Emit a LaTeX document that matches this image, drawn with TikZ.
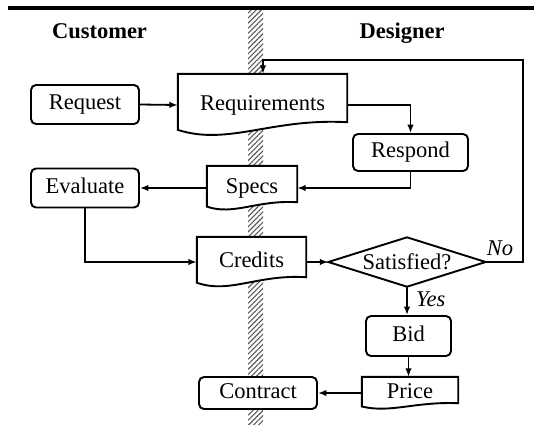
\documentclass[tikz,border=0pt]{standalone}
\usepackage{fontspec}
\setmainfont{Liberation Serif}
\usetikzlibrary{arrows.meta,calc,patterns.meta}

\pgfdeclarelayer{lane}
\pgfdeclarelayer{shapes}
\pgfsetlayers{lane,shapes,main}

\tikzset{
  lbl/.style={font=\fontsize{22.5}{27}\selectfont, text height=15pt, text depth=5pt},
  proc/.style={lbl, draw, line width=1.9pt, rounded corners=5pt, fill=white, inner sep=0pt},
  docnode/.style={lbl, inner sep=0pt},
  docline/.style={draw, line width=1.9pt, fill=white, line join=miter},
  flow/.style={line width=1.8pt, -{Latex[length=8.5pt,width=6.5pt]}},
  head/.style={font=\fontsize{22.5}{27}\selectfont\bfseries, anchor=base, inner sep=0pt},
  answer/.style={font=\fontsize{22.5}{27}\selectfont\itshape, anchor=base west, inner sep=0pt},
}

% document symbol: straight top and sides, wavy bottom edge
\newcommand\docshape[2]{%
  \path[docline] (#1.north west) -- (#1.north east) -- ($(#1.south east)+(0,-#2)$)
    .. controls ($(#1.south west)!0.55!(#1.south east)+(0,-1.3*#2)$)
    and ($(#1.south west)!0.3!(#1.south east)+(0,0.7*#2)$)
    .. ($(#1.south west)+(0,-0.45*#2)$) -- cycle;}

\begin{document}
\begin{tikzpicture}[x=1pt,y=-1pt]
\useasboundingbox (0,0) rectangle (534,424);

% swimlane header rule and hatched lane divider
\draw[line width=4pt] (8,7.5) -- (534,7.5);
\begin{pgfonlayer}{lane}
  \fill[pattern={Lines[angle=45,distance=3.6pt,line width=1.1pt]}, pattern color=black!65]
    (248,10) rectangle (263,424);
\end{pgfonlayer}

\node[head] (cust) at (99.5,38.5) {Customer};
\node[head] (dsgn) at (402,38.5) {Designer};

% steps
\node[proc, minimum width=108pt, minimum height=39pt] (request) at (85,104.5) {Request};
\node[docnode, minimum width=169pt, minimum height=62pt] (req) at (262.5,105) {Requirements};
\node[proc, minimum width=115pt, minimum height=37pt] (respond) at (410.5,152.5) {Respond};
\node[docnode, minimum width=90pt, minimum height=44pt] (specs) at (252,188) {Specs};
\node[proc, minimum width=108pt, minimum height=39pt] (evaluate) at (85,188) {Evaluate};
\node[docnode, minimum width=109pt, minimum height=50pt] (credits) at (251.5,262) {Credits};
\node[lbl, inner sep=0pt, minimum width=157pt, minimum height=49pt] (sat) at (407,262) {\raisebox{-2pt}{Satisfied?}};
\node[proc, minimum width=85pt, minimum height=40pt] (bid) at (408.5,336) {Bid};
\node[docnode, minimum width=96pt, minimum height=32pt] (price) at (410,393) {Price};
\node[proc, minimum width=118pt, minimum height=32pt] (contract) at (258,393) {Contract};

\begin{pgfonlayer}{shapes}
  \docshape{req}{14}
  \docshape{specs}{8}
  \docshape{credits}{10}
  \docshape{price}{6}
  \path[docline] (sat.west) -- (sat.north) -- (sat.east) -- (sat.south) -- cycle;
\end{pgfonlayer}

% loop-back corner points
\coordinate (fbr) at (523,60);
\coordinate (fbl) at (263,60);

% connectors
\draw[flow] (request.east) -- (req.west);
\draw[flow] (req.east) -| (respond.north);
\draw[flow] (respond.south) |- (specs.east);
\draw[flow] (specs.west) -- (evaluate.east);
\draw[flow] (evaluate.south) |- (credits.west);
\draw[flow] (credits.east) -- (sat.west);
\draw[flow] (sat.east) -- (sat.east -| fbr) -- (fbr) -- (fbl) -- (req.north -| fbl);
\draw[flow] (sat.south) -- (sat.south |- bid.north);
\draw[flow] (bid.south) -- (bid.south |- price.north);
\draw[flow] (price.west) -- (contract.east);

\node[answer] (no) at ($(sat.east)+(1,-7)$) {No};
\node[answer] (yes) at ($(sat.south)+(9,20)$) {Yes};
\end{tikzpicture}
\end{document}
